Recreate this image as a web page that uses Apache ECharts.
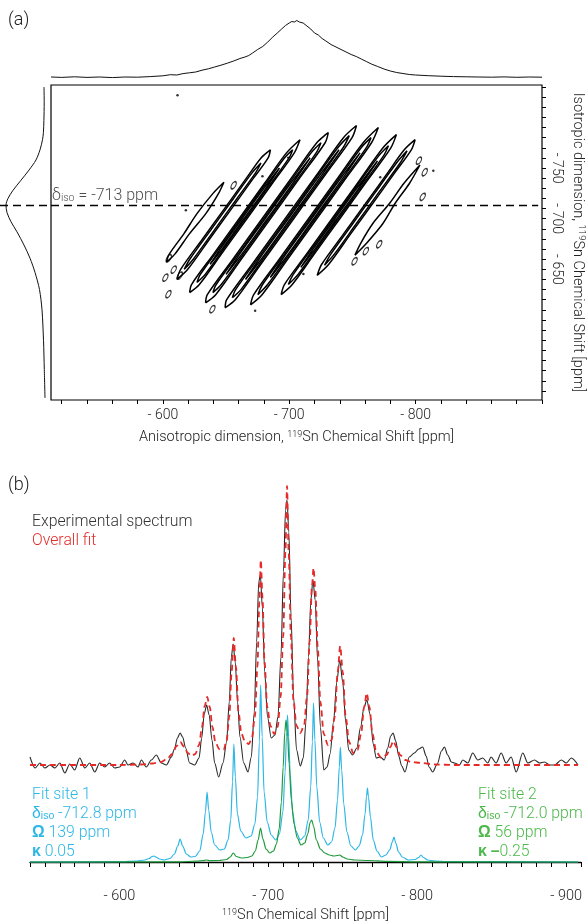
<!DOCTYPE html>
<html><head><meta charset="utf-8">
<script src="https://cdn.jsdelivr.net/npm/echarts@6/dist/echarts.min.js"></script>
<style>html,body{margin:0;padding:0;background:#fff}#c{width:587px;height:921px}</style>
</head><body><div id="c"></div>
<script>
// ---------- Panel (a) axes ----------
const anisoRangeA = [-900, -511.5];
const isoRangeA = [-832, -521];
const anisoTicksA = [-520,-540,-560,-580,-600,-620,-640,-660,-680,-700,-720,-740,-760,-780,-800,-820,-840,-860,-880,-900];
const anisoLabelsA = [-600,-700,-800];
const isoTicksA = [-830,-820,-810,-800,-790,-780,-770,-760,-750,-740,-730,-720,-710,-700,-690,-680,-670,-660,-650,-640,-630,-620,-610,-600,-590,-580,-570,-560,-550,-540,-530];
const isoLabelsA = [-750,-700,-650];
const isoLine = -713;

// top projection: [aniso ppm, intensity]
const topProjection = [[-511.5,1],[-520,0.6],[-530,1.2],[-540,0.6],[-550,1],[-560,0.4],[-570,1],[-580,0.8],[-590,1.4],[-600,2.2],[-606,3.3],[-611,3],[-616,4.4],[-621,5.2],[-626,6],[-631,7.8],[-636,9.2],[-641,11],[-646,12.8],[-651,14.8],[-656,17],[-661,19.5],[-665,21],[-668,22.5],[-671,25],[-675,28.5],[-679,31.5],[-683,36],[-687,41],[-691,45.5],[-694,49],[-697,52.5],[-700,55],[-702,56.5],[-704,56],[-706,57.5],[-708,56],[-711,55],[-714,52],[-717,49],[-720,45],[-723,43],[-726,39.5],[-729,37],[-733,33.5],[-737,31],[-741,28.5],[-745,26],[-749,23.5],[-753,21.5],[-757,19],[-761,16.5],[-765,14],[-770,11.5],[-775,9],[-780,7],[-785,5.5],[-790,4.5],[-795,3.5],[-800,3],[-810,2.3],[-820,1.8],[-830,1.4],[-840,1.2],[-850,1],[-860,0.8],[-870,1.1],[-880,0.7],[-890,1],[-900,0.8]];

// left projection: [iso ppm, intensity]
const leftProjection = [[-830,1.7],[-815,1.5],[-797,1.8],[-785,2.3],[-778,3.2],[-768,5.7],[-758,9.7],[-748,16.7],[-738,24.7],[-728,32.7],[-720,37.7],[-713.5,39.7],[-706,38.7],[-697,34.7],[-687,28.7],[-674,21.7],[-661,15.7],[-647,10.7],[-630,6.2],[-610,3.7],[-580,2.2],[-551,1.4],[-523,0.7]];

// contour loops: [aniso ppm, iso ppm]
const ridge1 = [
 [[-602.7,-657],[-605.1,-665],[-616.6,-685],[-627,-705],[-639.7,-725],[-648.3,-736],[-644.1,-725],[-634,-705],[-621,-685],[-609.5,-665],[-602.7,-657]]
];
const ridge2 = [
 [[-611.1,-640],[-614.1,-650],[-631.4,-680],[-648.8,-710],[-666.1,-740],[-677.7,-760],[-685.1,-768],[-683.3,-760],[-671.7,-740],[-654.4,-710],[-637,-680],[-619.7,-650],[-611.1,-640]],
 [[-616.9,-650],[-621.3,-660],[-638.6,-690],[-655.9,-720],[-670.4,-745],[-677.6,-755],[-673.2,-745],[-658.7,-720],[-641.4,-690],[-624.1,-660],[-616.9,-650]]
];
const ridge3 = [
 [[-621.2,-627],[-622.7,-635],[-640.1,-665],[-660.3,-700],[-680.5,-735],[-697.8,-765],[-708.5,-778],[-704,-765],[-686.7,-735],[-666.5,-700],[-646.3,-665],[-628.9,-635],[-621.2,-627]],
 [[-627,-637],[-629.7,-645],[-649.9,-680],[-673,-720],[-696.2,-760],[-702.7,-768],[-699.9,-760],[-676.8,-720],[-653.7,-680],[-633.5,-645],[-627,-637]],
 [[-637.4,-655],[-645.3,-670],[-662.6,-700],[-679.9,-730],[-692.3,-750],[-681.5,-730],[-664.2,-700],[-646.9,-670],[-637.4,-655]]
];
const ridge4 = [
 [[-633.8,-617],[-635.2,-625],[-655.4,-660],[-678.5,-700],[-701.6,-740],[-721.8,-775],[-730.9,-785],[-728.4,-775],[-708.2,-740],[-685.1,-700],[-662,-660],[-641.8,-625],[-633.8,-617]],
 [[-639.6,-627],[-642.2,-635],[-662.5,-670],[-688.5,-715],[-717.3,-765],[-725.1,-775],[-721.3,-765],[-692.5,-715],[-666.5,-670],[-646.2,-635],[-639.6,-627]],
 [[-650,-645],[-660.7,-665],[-680.9,-700],[-701.1,-735],[-716.5,-760],[-702.9,-735],[-682.7,-700],[-662.5,-665],[-650,-645]]
];
const ridge5 = [
 [[-649.3,-612],[-650.5,-620],[-670.7,-655],[-696.7,-700],[-722.7,-745],[-742.9,-780],[-753.2,-792],[-749.7,-780],[-729.5,-745],[-703.5,-700],[-677.5,-655],[-657.3,-620],[-649.3,-612]],
 [[-655,-622],[-657.6,-630],[-677.8,-665],[-703.8,-710],[-738.4,-770],[-747.5,-782],[-742.6,-770],[-708,-710],[-682,-665],[-661.8,-630],[-655,-622]],
 [[-665.4,-640],[-676.1,-660],[-699.2,-700],[-722.3,-740],[-739.4,-768],[-724.1,-740],[-701,-700],[-677.9,-660],[-665.4,-640]]
];
const ridge6 = [
 [[-669.4,-615],[-671.9,-625],[-692.1,-660],[-715.2,-700],[-738.3,-740],[-758.5,-775],[-770.5,-790],[-765.1,-775],[-744.9,-740],[-721.8,-700],[-698.7,-660],[-678.5,-625],[-669.4,-615]],
 [[-675.2,-625],[-678.9,-635],[-699.2,-670],[-725.2,-715],[-756.9,-770],[-764.7,-780],[-760.9,-770],[-729.2,-715],[-703.2,-670],[-682.9,-635],[-675.2,-625]],
 [[-685,-642],[-694.5,-660],[-717.6,-700],[-740.7,-740],[-756,-765],[-742.5,-740],[-719.4,-700],[-696.3,-660],[-685,-642]]
];
const ridge7 = [
 [[-693.6,-625],[-696.2,-635],[-713.6,-665],[-733.8,-700],[-754,-735],[-774.2,-770],[-784.8,-783],[-780.4,-770],[-760.2,-735],[-740,-700],[-719.8,-665],[-702.4,-635],[-693.6,-625]],
 [[-699.3,-635],[-703.2,-645],[-723.4,-680],[-746.5,-720],[-770.8,-762],[-778.5,-772],[-774.6,-762],[-750.3,-720],[-727.2,-680],[-707,-645],[-699.3,-635]],
 [[-709.2,-652],[-718.8,-670],[-736.1,-700],[-753.4,-730],[-769.8,-757],[-755,-730],[-737.7,-700],[-720.4,-670],[-709.2,-652]]
];
const ridge8 = [
 [[-722.1,-644],[-725.7,-655],[-743,-685],[-760.4,-715],[-777.7,-745],[-791,-768],[-799.6,-778],[-796.6,-768],[-783.3,-745],[-766,-715],[-748.6,-685],[-731.3,-655],[-722.1,-644]],
 [[-727.9,-654],[-732.9,-665],[-750.2,-695],[-767.5,-725],[-784.9,-755],[-793.2,-767],[-787.7,-755],[-770.3,-725],[-753,-695],[-735.7,-665],[-727.9,-654]]
];
const ridge9 = [
 [[-752,-664],[-756.2,-675],[-766,-695],[-779.3,-715],[-790.8,-735],[-803.4,-753],[-795.2,-735],[-783.7,-715],[-774,-695],[-760.6,-675],[-752,-664]]
];
const smallIslands = [[-604.7,-661],[-608.6,-649.7],[-602,-641.8],[-613.4,-643.8],[-604.4,-625.5],[-639.2,-610.7],[-656,-733],[-805.6,-721.6],[-807.2,-745.9],[-802.6,-757.3],[-771.2,-674.8],[-760.6,-668],[-751.7,-658]];
const smallDots = [[-611.6,-822],[-699.2,-760.2],[-678.8,-742],[-772,-740.9],[-814,-747.4],[-711.2,-645.3],[-673,-609.2],[-618.2,-708.3]];

// ---------- Panel (b) ----------
const shiftRangeB = [-910, -540];
const intensityRangeB = [-20, 392];
const shiftLabelsB = [-600,-700,-800,-900];

const expSpectrum = [[-540,105],[-543.4,94],[-546.7,99],[-550,94],[-553.4,97],[-556.7,94],[-560,99],[-563.4,89],[-566.7,98],[-570,92],[-573.4,104],[-576.8,94],[-580.1,99],[-583.5,90],[-586.8,99],[-590.2,95],[-593.5,99],[-596.9,94],[-600.2,95],[-603.6,102],[-605.8,97],[-609.2,99],[-612.5,95],[-614.8,102],[-618.1,95],[-621.5,102],[-624.8,107],[-628.2,99],[-631.6,97],[-634.9,105],[-637,113],[-639,124],[-640.8,129],[-642.5,125],[-644.5,114],[-647.2,99],[-650.6,97],[-653.5,104],[-655.3,124],[-657,148],[-658.6,157],[-660.3,147],[-662.2,122],[-664,99],[-666.7,85],[-669.6,99],[-672,120],[-673.8,160],[-675.2,205],[-676.4,218],[-677.8,200],[-679.4,160],[-681,125],[-683.5,99],[-686.4,90],[-688.6,105],[-690.6,150],[-692.2,220],[-693.6,280],[-694.7,287],[-696,255],[-697.6,190],[-699.5,145],[-702,124],[-704.5,127],[-706.5,145],[-708.5,205],[-710.2,290],[-711.6,352],[-712.6,362],[-713.8,330],[-715.3,245],[-717,165],[-719,112],[-721.5,96],[-723.5,104],[-725.3,140],[-727,205],[-728.6,262],[-730,282],[-731.5,262],[-733.2,200],[-735,135],[-737.3,92],[-739.5,95],[-741.5,108],[-743.8,140],[-746,180],[-748,202],[-750,180],[-752,140],[-754,112],[-756.6,107],[-759.5,114],[-762,135],[-764.3,155],[-766.2,162],[-768.3,148],[-770.5,118],[-772.5,104],[-775.2,105],[-777.9,102],[-780.2,114],[-782.2,126],[-783.8,129],[-785.6,121],[-787.6,106],[-789.6,96],[-791.8,90],[-794.7,105],[-798.1,109],[-801,113],[-803.7,115],[-806,106],[-808,95],[-810.4,90],[-813.5,98],[-816.3,111],[-818.3,115],[-820.5,107],[-823,100],[-825,99],[-828.4,97],[-830.6,102],[-834,99],[-837.3,109],[-840.7,102],[-844,104],[-847.4,99],[-849.6,105],[-853,99],[-856.4,109],[-859.7,99],[-863.1,105],[-866.5,90],[-870.9,109],[-874.3,99],[-878.8,102],[-882.2,99],[-885.5,100],[-888.9,97],[-892.3,97],[-896.8,102],[-900.1,99],[-903.5,104],[-908,97]];

const overallFit = [[-540,97],[-600,97],[-615,97.5],[-622,98.5],[-628,100],[-632,103],[-635.5,108],[-638.5,116],[-641,120],[-643.5,115],[-646,109],[-648.5,106],[-651,108],[-653.5,117],[-655.5,135],[-657.3,156],[-659,165],[-660.7,155],[-662.5,135],[-664.5,120],[-667,113],[-670,112],[-672,121],[-673.8,145],[-675.4,190],[-676.8,224],[-678.3,195],[-680,150],[-682,128],[-684.5,120],[-687,118],[-689,124],[-691,145],[-692.7,195],[-694,260],[-695,302],[-696.1,265],[-697.5,200],[-699.3,155],[-701.5,136],[-704,128],[-706.3,135],[-708.3,165],[-710,225],[-711.5,310],[-712.6,376],[-713.7,310],[-715.2,225],[-716.9,162],[-719,136],[-721.5,129],[-724,136],[-726,165],[-727.8,220],[-729.3,275],[-730.4,294],[-731.6,272],[-733.2,215],[-735,160],[-737.3,128],[-740,117],[-742.5,122],[-744.6,145],[-746.6,190],[-748.3,216],[-750,190],[-752,145],[-754.3,120],[-757,109],[-760,112],[-762.3,128],[-764.4,155],[-766.1,169],[-767.9,155],[-770,128],[-772.5,110],[-776,104],[-779.5,107],[-782,115],[-784,121],[-786,115],[-788.5,107],[-792,102],[-796,100],[-803,99],[-812,97.5],[-825,97],[-908,97]];

const fitSite1 = [[-540,0],[-600,0.3],[-612,1],[-617,2],[-620,3.5],[-622,5.5],[-623.2,6],[-624.5,5],[-627,3],[-630,2],[-634,3.5],[-637,8],[-639.2,16],[-640.8,23],[-642.5,16],[-645,8],[-648,5],[-651,5.5],[-654,11],[-656.3,28],[-657.8,50],[-658.9,70],[-660,52],[-661.7,30],[-664,17],[-667.5,12],[-670.5,13],[-673,22],[-674.8,42],[-676,80],[-676.9,118],[-677.9,85],[-679.3,48],[-681.5,31],[-685,24],[-688.5,26],[-691,38],[-692.8,65],[-694,120],[-694.9,177],[-695.9,125],[-697.2,70],[-699.3,40],[-702,27],[-705,22],[-707.5,28],[-709.8,50],[-711.3,90],[-712.2,125],[-712.9,147],[-713.7,125],[-714.7,88],[-716.3,50],[-718.5,31],[-721.5,22],[-724.5,26],[-726.8,42],[-728.5,75],[-729.6,120],[-730.4,159],[-731.3,122],[-732.6,75],[-734.5,40],[-737,24],[-740,17],[-742.5,20],[-744.8,34],[-746.5,62],[-747.7,95],[-748.4,115],[-749.3,92],[-750.7,58],[-752.8,30],[-755.5,16],[-758.5,12],[-761,16],[-763.3,27],[-765,48],[-766,66],[-766.6,74],[-767.3,65],[-768.6,45],[-770.5,22],[-773,11],[-776,5],[-779,7],[-781.5,12],[-783.3,20],[-784.4,25],[-785.6,19],[-787.5,10],[-790,5],[-794,2],[-798.5,2.5],[-801,4.5],[-802.6,7],[-804.2,4.5],[-807,2],[-812,1],[-820,0.5],[-908,0]];

const fitSite2 = [[-540,0],[-640,0.2],[-652,0.8],[-656,1.3],[-658.5,2],[-661,1.3],[-667,1.5],[-672,2.5],[-674.5,5],[-676.5,9],[-678.5,5.5],[-682,4],[-686,4.5],[-689,6],[-691.3,11],[-693.2,22],[-694.8,34],[-696.4,23],[-698.5,13],[-701,9],[-703.5,11],[-705.5,18],[-707.3,33],[-708.8,60],[-710,95],[-711.1,130],[-711.9,142],[-712.9,130],[-714,98],[-715.5,62],[-717.3,38],[-719.5,24],[-722,17],[-724.5,19],[-726.5,28],[-728.2,40],[-729.2,42],[-730.4,36],[-732.3,22],[-735,13],[-738,9],[-741,7],[-744,6],[-746.5,6.5],[-748,7],[-750,5],[-753,3],[-758,2],[-767,1.5],[-780,0.6],[-800,0.2],[-908,0]];

// ---------- build ----------
const FONT = 'Roboto, "Liberation Sans", sans-serif';
const fmtShift = v => '- ' + Math.abs(v);
const chart = echarts.init(document.getElementById('c'), null, {renderer: 'canvas'});

const contourSeries = [];
[ridge1, ridge2, ridge3, ridge4, ridge5, ridge6, ridge7, ridge8, ridge9].forEach(r => {
  r.forEach(loop => {
    contourSeries.push({
      type: 'line', xAxisIndex: 0, yAxisIndex: 0, data: loop,
      smooth: 0.3, showSymbol: false, silent: true,
      lineStyle: {color: '#000', width: 1.5}
    });
  });
});

const ellipsePath = 'path://M0,-1C0.55,-1,1,-0.55,1,0C1,0.55,0.55,1,0,1C-0.55,1,-1,0.55,-1,0C-1,-0.55,-0.55,-1,0,-1Z';
const supRich = {sup: {fontSize: 9, verticalAlign: 'top', color: '#222', fontFamily: FONT, padding: [0,0,6,0]}};

const option = {
  animation: false,
  backgroundColor: '#fff',
  textStyle: {fontFamily: FONT},
  grid: [
    {left: 51, top: 85, width: 491, height: 315, show: true, borderColor: '#000', borderWidth: 1.2, backgroundColor: 'transparent', containLabel: false, outerBoundsMode: 'none'},
    {left: 51, top: 18, width: 491, height: 60, containLabel: false, outerBoundsMode: 'none'},
    {left: 0, top: 85, width: 51, height: 315, containLabel: false, outerBoundsMode: 'none'},
    {left: 30, top: 470, width: 551, height: 412, containLabel: false, outerBoundsMode: 'none'}
  ],
  xAxis: [
    {gridIndex: 0, type: 'value', min: anisoRangeA[0], max: anisoRangeA[1], inverse: true, position: 'bottom',
     axisLine: {show: false}, splitLine: {show: false},
     axisTick: {show: true, customValues: anisoTicksA, length: 4, lineStyle: {color: '#000', width: 1}},
     axisLabel: {customValues: anisoLabelsA, formatter: fmtShift, fontSize: 14, color: '#222', margin: 8, fontFamily: FONT, fontWeight: 300},
     name: 'Anisotropic dimension, {sup|119}Sn Chemical Shift [ppm]', nameLocation: 'middle', nameGap: 30, nameMoveOverlap: false,
     nameTextStyle: {fontSize: 14.5, color: '#222', fontFamily: FONT, fontWeight: 300, rich: supRich}},
    {gridIndex: 1, type: 'value', min: anisoRangeA[0], max: anisoRangeA[1], inverse: true, show: false},
    {gridIndex: 2, type: 'value', min: -5.3, max: 45.7, inverse: true, show: false},
    {gridIndex: 3, type: 'value', min: shiftRangeB[0], max: shiftRangeB[1], inverse: true, interval: 10,
     axisLine: {show: true, lineStyle: {color: '#000', width: 1.3}}, splitLine: {show: false},
     axisTick: {show: true, length: 5, lineStyle: {color: '#000', width: 1}},
     axisLabel: {customValues: shiftLabelsB, formatter: fmtShift, fontSize: 14.5, color: '#222', margin: 7, fontFamily: FONT, fontWeight: 300},
     name: '{sup|119}Sn Chemical Shift [ppm]', nameLocation: 'middle', nameGap: 26, nameMoveOverlap: false,
     nameTextStyle: {fontSize: 14.5, color: '#222', fontFamily: FONT, fontWeight: 300, rich: supRich}}
  ],
  yAxis: [
    {gridIndex: 0, type: 'value', min: isoRangeA[0], max: isoRangeA[1], inverse: true, position: 'right',
     axisLine: {show: false}, splitLine: {show: false},
     axisTick: {show: true, customValues: isoTicksA, length: 4, lineStyle: {color: '#000', width: 1}},
     axisLabel: {customValues: isoLabelsA, formatter: fmtShift, rotate: -90, fontSize: 14, color: '#222', margin: 7, fontFamily: FONT, fontWeight: 300},
     name: 'Isotropic dimension, {sup|119}Sn Chemical Shift [ppm]', nameLocation: 'middle', nameRotate: -90, nameGap: 28, nameMoveOverlap: false,
     nameTextStyle: {fontSize: 14.5, color: '#222', fontFamily: FONT, fontWeight: 300, rich: {sup: {fontSize: 9.5, verticalAlign: 'top', color: '#222', fontFamily: FONT, padding: [0,0,6,0]}}}},
    {gridIndex: 1, type: 'value', min: 0, max: 60, show: false},
    {gridIndex: 2, type: 'value', min: isoRangeA[0], max: isoRangeA[1], inverse: true, show: false},
    {gridIndex: 3, type: 'value', min: intensityRangeB[0], max: intensityRangeB[1], show: false}
  ],
  graphic: [
    {type: 'text', x: 8, y: 20, style: {text: '(a)', font: '300 18px ' + FONT, fill: '#222', textVerticalAlign: 'middle'}},
    {type: 'text', x: 8, y: 485, style: {text: '(b)', font: '300 18px ' + FONT, fill: '#222', textVerticalAlign: 'middle'}},
    {type: 'text', x: 32, y: 522, style: {text: 'Experimental spectrum', font: '300 15.8px ' + FONT, fill: '#333', textVerticalAlign: 'middle'}},
    {type: 'text', x: 32, y: 541, style: {text: 'Overall fit', font: '300 15.8px ' + FONT, fill: '#e52a2a', textVerticalAlign: 'middle'}},
    {type: 'text', x: 32, y: 795, style: {text: 'Fit site 1', font: '300 15.8px ' + FONT, fill: '#2db7e6', textVerticalAlign: 'middle'}},
    {type: 'text', x: 32, y: 814, style: {text: '{d|δ}{s|iso} -712.8 ppm', font: '300 15.8px ' + FONT, fill: '#2db7e6', textVerticalAlign: 'middle',
      rich: {d: {fontSize: 15.8, fill: '#2db7e6', verticalAlign: 'bottom'}, s: {fontSize: 10.5, fill: '#2db7e6', verticalAlign: 'bottom'}}}},
    {type: 'text', x: 32, y: 833, style: {text: '{g|Ω} 139 ppm', font: '300 15.8px ' + FONT, fill: '#2db7e6', textVerticalAlign: 'middle',
      rich: {g: {fontSize: 15.8, fontWeight: 'bold', fill: '#2db7e6'}}}},
    {type: 'text', x: 32, y: 852, style: {text: '{g|κ} 0.05', font: '300 15.8px ' + FONT, fill: '#2db7e6', textVerticalAlign: 'middle',
      rich: {g: {fontSize: 15.8, fontWeight: 'bold', fill: '#2db7e6'}}}},
    {type: 'text', x: 478, y: 795, style: {text: 'Fit site 2', font: '300 15.8px ' + FONT, fill: '#4cb84a', textVerticalAlign: 'middle'}},
    {type: 'text', x: 478, y: 814, style: {text: '{d|δ}{s|iso} -712.0 ppm', font: '300 15.8px ' + FONT, fill: '#4cb84a', textVerticalAlign: 'middle',
      rich: {d: {fontSize: 15.8, fill: '#4cb84a', verticalAlign: 'bottom'}, s: {fontSize: 10.5, fill: '#4cb84a', verticalAlign: 'bottom'}}}},
    {type: 'text', x: 478, y: 833, style: {text: '{g|Ω} 56 ppm', font: '300 15.8px ' + FONT, fill: '#4cb84a', textVerticalAlign: 'middle',
      rich: {g: {fontSize: 15.8, fontWeight: 'bold', fill: '#4cb84a'}}}},
    {type: 'text', x: 478, y: 852, style: {text: '{g|κ} {m|–}0.25', font: '300 15.8px ' + FONT, fill: '#4cb84a', textVerticalAlign: 'middle',
      rich: {g: {fontSize: 15.8, fontWeight: 'bold', fill: '#4cb84a'}, m: {fontSize: 15.8, fontWeight: 'bold', fill: '#4cb84a'}}}}
  ],
  series: [
    {type: 'line', xAxisIndex: 1, yAxisIndex: 1, data: topProjection, showSymbol: false, silent: true,
     lineStyle: {color: '#111', width: 1}},
    {type: 'line', xAxisIndex: 2, yAxisIndex: 2, data: leftProjection.map(p => [p[1], p[0]]), showSymbol: false, silent: true,
     smooth: 0.3, lineStyle: {color: '#111', width: 1}},
    ...contourSeries,
    {type: 'scatter', xAxisIndex: 0, yAxisIndex: 0, data: smallIslands, symbol: ellipsePath, symbolSize: [4, 8], symbolRotate: -30,
     silent: true, itemStyle: {color: '#fff', borderColor: '#000', borderWidth: 1.3}},
    {type: 'scatter', xAxisIndex: 0, yAxisIndex: 0, data: smallDots, symbol: 'circle', symbolSize: 2.5,
     silent: true, itemStyle: {color: '#000'}},
    {type: 'line', xAxisIndex: 0, yAxisIndex: 0, data: [[anisoRangeA[1], isoLine], [anisoRangeA[0] + 3, isoLine]],
     showSymbol: false, silent: true, lineStyle: {color: '#000', width: 1.5, type: [8, 5]}},
    {type: 'line', xAxisIndex: 2, yAxisIndex: 2, data: [[45.7, isoLine], [-5.3, isoLine]],
     showSymbol: false, silent: true, lineStyle: {color: '#000', width: 1.5, type: [8, 5]}},
    {type: 'scatter', xAxisIndex: 0, yAxisIndex: 0, data: [[anisoRangeA[1], isoLine]], symbolSize: 0, silent: true,
     label: {show: true, position: 'right', distance: 1, offset: [0, -10],
       formatter: '{d|δ}{s|iso}{t| = -713 ppm}',
       rich: {d: {fontSize: 16, color: '#222', fontFamily: FONT, fontWeight: 300, verticalAlign: 'bottom'},
              s: {fontSize: 10.5, color: '#222', fontFamily: FONT, fontWeight: 300, verticalAlign: 'bottom'},
              t: {fontSize: 16, color: '#222', fontFamily: FONT, fontWeight: 300, verticalAlign: 'bottom'}}}},
    {type: 'line', xAxisIndex: 3, yAxisIndex: 3, data: fitSite1, showSymbol: false, silent: true, smooth: 0.3, smoothMonotone: 'x',
     lineStyle: {color: '#2db7e6', width: 1.2}},
    {type: 'line', xAxisIndex: 3, yAxisIndex: 3, data: fitSite2, showSymbol: false, silent: true, smooth: 0.3, smoothMonotone: 'x',
     lineStyle: {color: '#1f9a3c', width: 1.2}},
    {type: 'line', xAxisIndex: 3, yAxisIndex: 3, data: expSpectrum, showSymbol: false, silent: true, smooth: 0.3, smoothMonotone: 'x',
     lineStyle: {color: '#2a2a2a', width: 1.1}},
    {type: 'line', xAxisIndex: 3, yAxisIndex: 3, data: overallFit, showSymbol: false, silent: true, smooth: 0.3, smoothMonotone: 'x',
     lineStyle: {color: '#e52a2a', width: 1.8, type: [6, 4]}}
  ]
};
chart.setOption(option);
</script></body></html>
